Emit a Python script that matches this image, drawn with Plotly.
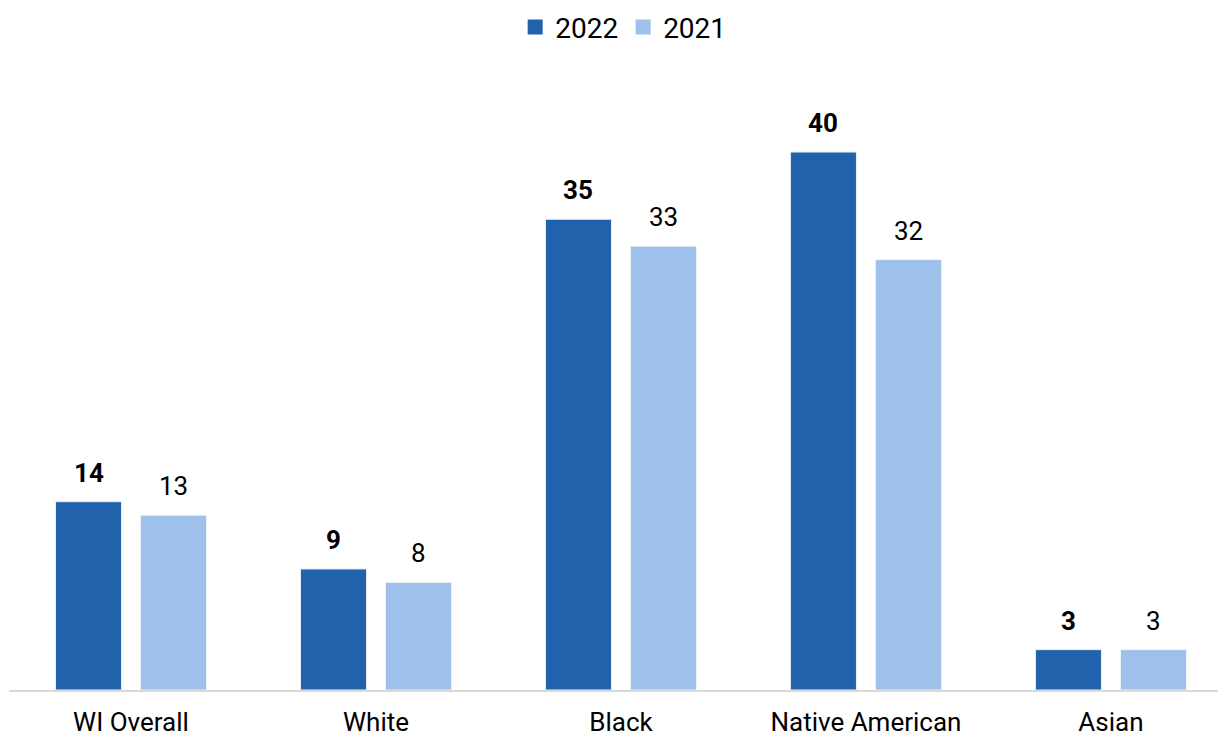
import plotly.graph_objects as go

categories = ["WI Overall", "White", "Black", "Native American", "Asian"]
values_2022 = [14, 9, 35, 40, 3]
values_2021 = [13, 8, 33, 32, 3]

DARK = "#2162ad"
LIGHT = "#9dc1ea"
FONT = "Roboto"
LABEL_SIZE = 26

fig = go.Figure()
fig.add_trace(go.Bar(
    name="2022", x=categories, y=values_2022, showlegend=False,
    marker=dict(color=DARK, line=dict(color="#e8eef7", width=1)),
))
fig.add_trace(go.Bar(
    name="2021", x=categories, y=values_2021, showlegend=False,
    marker=dict(color=LIGHT, line=dict(color="#eef3fa", width=1)),
))

# legend entries with square swatches
for name, color in (("2022", DARK), ("2021", LIGHT)):
    fig.add_trace(go.Scatter(
        name=name, x=[None], y=[None], mode="markers",
        marker=dict(symbol="square", size=15, color=color),
        showlegend=True,
    ))

# value labels above each bar (2022 bold)
for cat, v in zip(categories, values_2022):
    fig.add_annotation(x=cat, y=v, text=f"<b>{v}</b>", showarrow=False,
                       xshift=-42.5, yshift=12, yanchor="bottom",
                       font=dict(family=FONT, size=LABEL_SIZE, color="#000000"))
for cat, v in zip(categories, values_2021):
    fig.add_annotation(x=cat, y=v, text=str(v), showarrow=False,
                       xshift=42.5, yshift=12, yanchor="bottom",
                       font=dict(family=FONT, size=LABEL_SIZE, color="#000000"))

fig.update_layout(
    width=1218, height=737,
    margin=dict(l=9, r=0, t=70, b=47),
    paper_bgcolor="white", plot_bgcolor="white",
    barmode="group", bargap=0.306, bargroupgap=0.2235,
    font=dict(family=FONT, size=LABEL_SIZE, color="#000000"),
    showlegend=True,
    legend=dict(orientation="h", x=0.508, xanchor="center", y=0.997, yanchor="top",
                yref="container", font=dict(family=FONT, size=28, color="#000000"),
                itemwidth=30, traceorder="normal"),
)
fig.update_xaxes(
    range=[-0.498, 4.437], showline=True, linecolor="#d9d9d9", linewidth=2,
    ticks="outside", ticklen=8, tickcolor="rgba(0,0,0,0)",
    tickfont=dict(family=FONT, size=LABEL_SIZE, color="#000000"),
)
fig.update_yaxes(range=[0, 46.1], visible=False, showgrid=False)

fig.write_html("out.html")
